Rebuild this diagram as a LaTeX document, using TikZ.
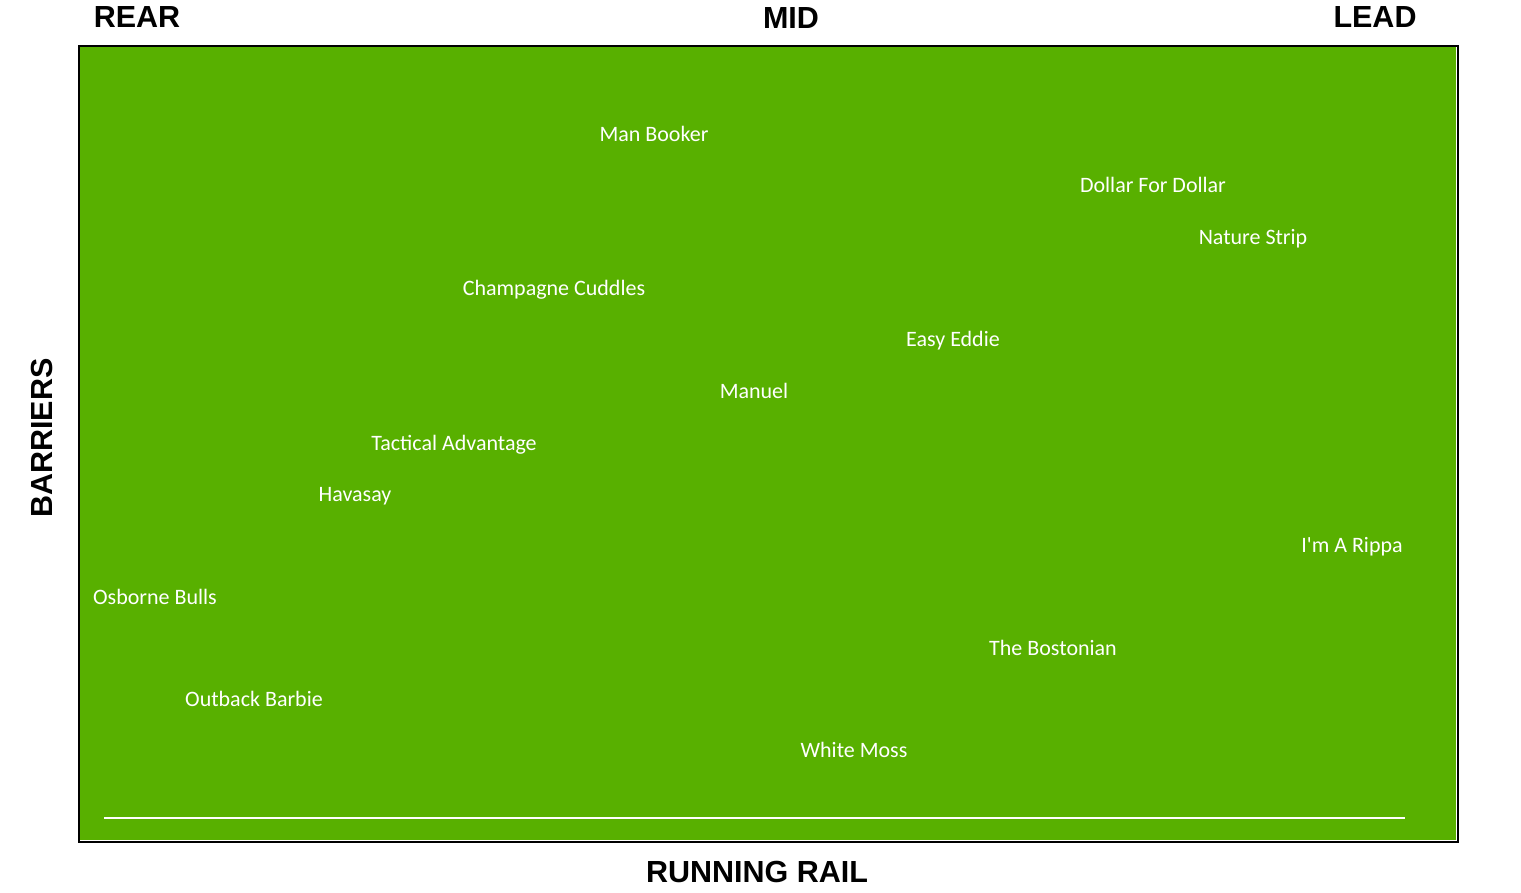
\documentclass[tikz,border=0pt]{standalone}
\usepackage{fontspec}
\newfontfamily\horsefont{Carlito}
\newfontfamily\headfont{Liberation Sans}
\usepackage{xcolor}
\usetikzlibrary{positioning}
\definecolor{turf}{RGB}{88,176,0}

\begin{document}
\begin{tikzpicture}[
    x=1pt, y=-1pt,
    horse/.style={anchor=base, text=white, inner sep=0pt, font=\horsefont\fontsize{22}{24}\selectfont},
    heading/.style={anchor=base, text=black, inner sep=0pt, font=\headfont\bfseries\fontsize{30.5}{32}\selectfont},
    rail/.style={draw=white, line width=2.6pt}
]
    \useasboundingbox (0,0) rectangle (1521,893);

    % Track
    \draw[black, line width=2pt, fill=white] (79,46.5) rectangle (1458,842);
    \fill[turf] (80,47.5) rectangle (1456,840);

    % Running rail
    \coordinate (railstart) at (104,818);
    \coordinate (railend) at (1405,818);
    \draw[rail] (railstart) -- (railend);

    % Headings
    \node[heading] (rear) at (137,28) {REAR};
    \node[heading] (mid) at (791,29) {MID};
    \node[heading] (lead) at (1375,28) {LEAD};
    \node[heading] (runningrail) at (757,882) {RUNNING RAIL};
    \node[heading, rotate=90] (barriers) at (52,438) {BARRIERS};

    % Runners
    \node[horse] (manbooker) at (654,142) {Man Booker};
    \node[horse] (dollarfordollar) at (1153,193) {Dollar For Dollar};
    \node[horse] (naturestrip) at (1253,245) {Nature Strip};
    \node[horse] (champagnecuddles) at (554,296) {Champagne Cuddles};
    \node[horse] (easyeddie) at (953,347) {Easy Eddie};
    \node[horse] (manuel) at (754,398) {Manuel};
    \node[horse] (tacticaladvantage) at (454,450) {Tactical Advantage};
    \node[horse] (havasay) at (355,501) {Havasay};
    \node[horse] (imarippa) at (1352,552) {I'm A Rippa};
    \node[horse] (osbornebulls) at (155,604) {Osborne Bulls};
    \node[horse] (thebostonian) at (1053,655) {The Bostonian};
    \node[horse] (outbackbarbie) at (254,706) {Outback Barbie};
    \node[horse] (whitemoss) at (854,757) {White Moss};
\end{tikzpicture}
\end{document}
